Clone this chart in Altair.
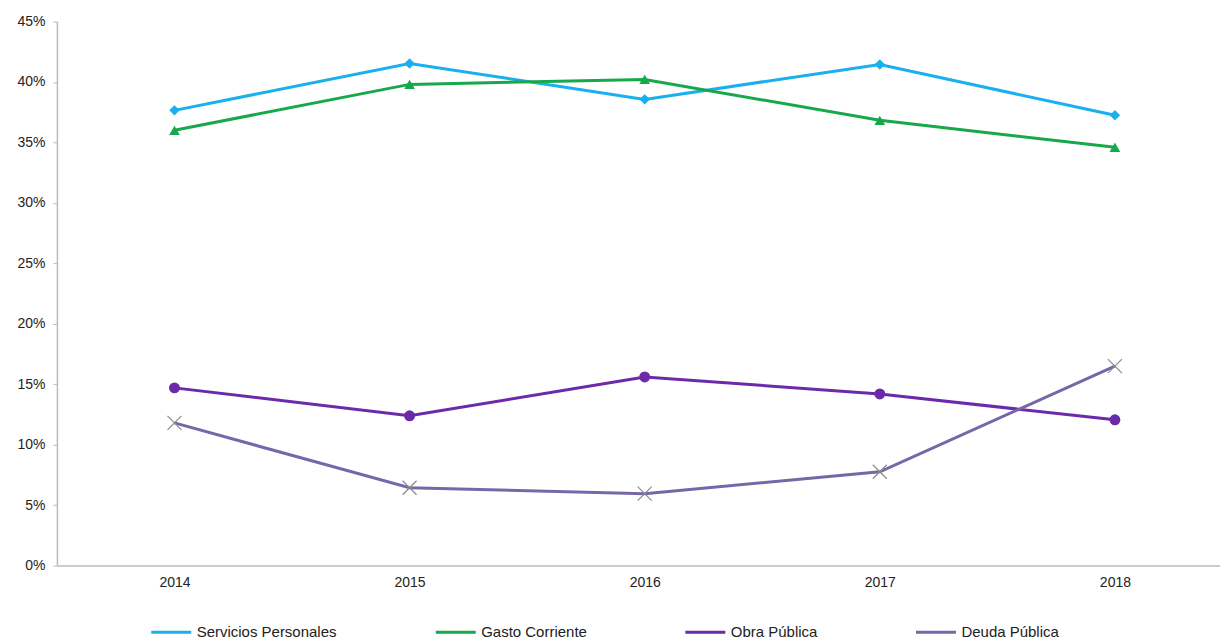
import altair as alt
import pandas as pd

years = [2014, 2015, 2016, 2017, 2018]
series_names = ["Servicios Personales", "Gasto Corriente", "Obra Pública", "Deuda Pública"]
servicios = [0.3765, 0.4153, 0.3856, 0.4145, 0.3724]
gasto = [0.3600, 0.3980, 0.4021, 0.3683, 0.3460]
obra = [0.1470, 0.1239, 0.1560, 0.1420, 0.1206]
deuda = [0.1180, 0.0644, 0.0595, 0.0776, 0.1650]
colors = ["#1AAFEF", "#18A84C", "#6A2AAA", "#7867A8"]

rows = []
for name, vals in zip(series_names, [servicios, gasto, obra, deuda]):
    for y, v in zip(years, vals):
        rows.append({"year": y, "value": v, "serie": name})
df = pd.DataFrame(rows)

FONT = "Liberation Sans"

x = alt.X("year:Q",
          scale=alt.Scale(domain=[2013.5, 2018.447], nice=False, zero=False),
          axis=alt.Axis(values=years, format="d", title=None, ticks=False,
                        labelFontSize=14, labelColor="#222", labelPadding=10,
                        domainColor="#BBBBBB", domainWidth=1.5, grid=False, labelFont=FONT))
y = alt.Y("value:Q",
          scale=alt.Scale(domain=[0, 0.45], nice=False),
          axis=alt.Axis(values=[0, 0.05, 0.1, 0.15, 0.2, 0.25, 0.3, 0.35, 0.4, 0.45],
                        format=".0%", title=None, grid=False, tickSize=4, tickColor="#BBBBBB",
                        labelFontSize=14, labelColor="#222", labelPadding=8,
                        domainColor="#BBBBBB", domainWidth=1.5, labelFont=FONT))

color = alt.Color("serie:N",
                  scale=alt.Scale(domain=series_names, range=colors),
                  legend=alt.Legend(title=None, orient="none", legendX=93, legendY=590,
                                    direction="horizontal", columns=4, columnPadding=92,
                                    symbolType="stroke", symbolSize=1600, symbolStrokeWidth=3,
                                    labelFontSize=15, labelColor="#222", labelFont=FONT,
                                    labelOffset=4))

base = alt.Chart(df)

lines = base.mark_line(strokeWidth=3).encode(
    x=x, y=y, color=color, order=alt.Order("year:Q"),
    detail="serie:N")

filled = base.transform_filter(alt.datum.serie != "Deuda Pública").mark_point(
    filled=True, opacity=1).encode(
    x=x, y=y,
    color=alt.Color("serie:N", scale=alt.Scale(domain=series_names, range=colors), legend=None),
    shape=alt.Shape("serie:N", scale=alt.Scale(domain=series_names[:3],
                                                range=["diamond", "triangle-up", "circle"]),
                    legend=None),
    size=alt.Size("serie:N", scale=alt.Scale(domain=series_names[:3], range=[110, 120, 130]),
                  legend=None))

xmark = base.transform_filter(alt.datum.serie == "Deuda Pública").mark_point(
    filled=False, shape="M-1,-1L1,1M1,-1L-1,1", size=196, stroke="#8A8A8A",
    strokeWidth=1.2, opacity=1).encode(x=x, y=y)

chart = alt.layer(lines, filled, xmark).properties(
    width=1165, height=545,
    autosize=alt.AutoSizeParams(type="none"),
    padding={"left": 49, "top": 13, "right": 0, "bottom": 80},
    background="white",
).configure_view(stroke=None)

chart.save("out.html", embed_options={"renderer": "svg", "actions": False})
